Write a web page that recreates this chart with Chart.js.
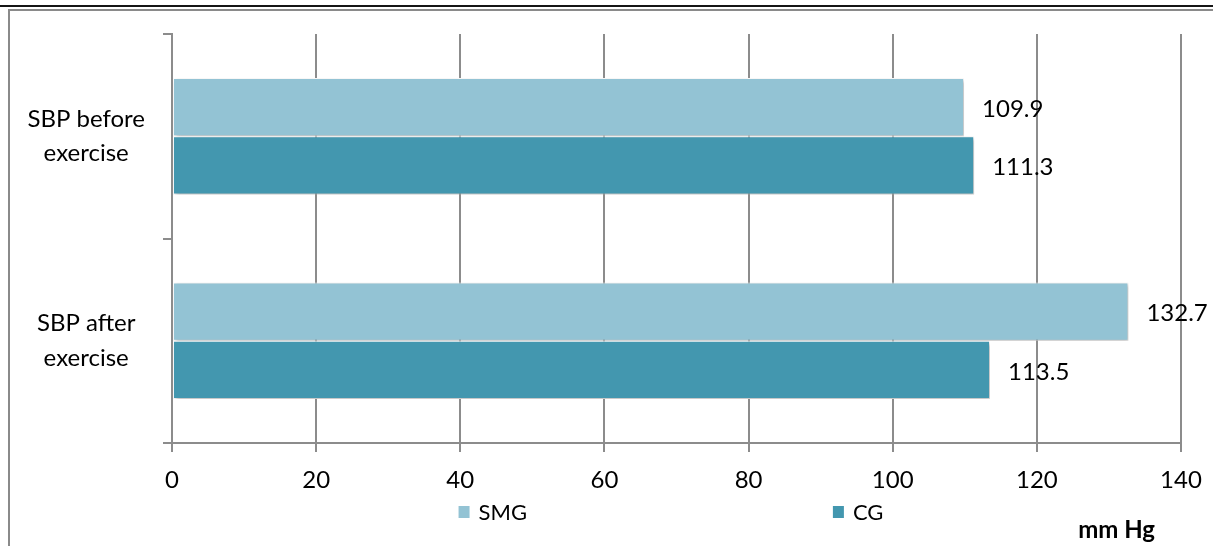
<!DOCTYPE html>
<html>
<head>
<meta charset="utf-8">
<script src="https://cdn.jsdelivr.net/npm/chart.js@4"></script>
<style>
  html, body { margin: 0; padding: 0; background: #fff; }
  #page { position: relative; width: 1213px; height: 546px; overflow: hidden; }
  #rule { position: absolute; left: 0; top: 5px; width: 1213px; height: 2px; background: #151515; }
  #frame { position: absolute; left: 8px; top: 9px; width: 1220px; height: 560px;
           border-left: 2px solid #8a8a8a; border-top: 2px solid #8a8a8a; }
  #chart { position: absolute; left: 0; top: 0; }
</style>
</head>
<body>
<div id="page">
  <div id="rule"></div>
  <div id="frame"></div>
  <canvas id="chart" width="1213" height="546"></canvas>
</div>
<script>
// Systolic blood pressure, mean values per group
const categories = [["SBP before", "exercise"], ["SBP after", "exercise"]];
const seriesNames = ["SMG", "CG"];
const smgValues = [109.9, 132.7];
const cgValues = [111.3, 113.5];
const xTicks = [0, 20, 40, 60, 80, 100, 120, 140];
const unitLabel = "mm Hg";

const colors = ["#93c3d4", "#4397af"];
const FONT = "Lato, 'Open Sans', sans-serif";
const GRID = "#8c8c8c";

// soft drop shadow under the bars
const barShadow = {
  id: "barShadow",
  beforeDatasetsDraw(chart) {
    const ctx = chart.ctx;
    ctx.save();
    ctx.shadowColor = "rgba(0,0,0,0.28)";
    ctx.shadowBlur = 4;
    ctx.shadowOffsetX = 2;
    ctx.shadowOffsetY = 2;
  },
  afterDatasetsDraw(chart) {
    chart.ctx.restore();
  }
};

// value labels to the right of each bar
const valueLabels = {
  id: "valueLabels",
  afterDatasetsDraw(chart) {
    const ctx = chart.ctx;
    ctx.save();
    ctx.font = "24px " + FONT;
    ctx.fillStyle = "#000";
    ctx.textAlign = "left";
    ctx.textBaseline = "middle";
    chart.data.datasets.forEach((ds, di) => {
      chart.getDatasetMeta(di).data.forEach((bar, i) => {
        ctx.fillText(ds.data[i].toFixed(1), bar.x + 18, bar.y + 2);
      });
    });
    ctx.restore();
  }
};

// legend row and unit caption under the axis
const bottomLegend = {
  id: "bottomLegend",
  afterDraw(chart) {
    const ctx = chart.ctx;
    const a = chart.chartArea;
    const w = a.right - a.left;
    const slots = [0.284, 0.655];
    const y = 512;
    ctx.save();
    ctx.font = "22px " + FONT;
    ctx.textBaseline = "middle";
    ctx.textAlign = "left";
    chart.data.datasets.forEach((ds, i) => {
      const x = a.left + w * slots[i];
      ctx.fillStyle = ds.backgroundColor;
      ctx.fillRect(x, y - 6, 11, 12);
      ctx.fillStyle = "#000";
      ctx.fillText(ds.label, x + 20, y + 1);
    });
    ctx.font = "bold 24px " + FONT;
    ctx.textAlign = "right";
    ctx.fillText(unitLabel, a.right - 26, y + 18);
    ctx.restore();
  }
};

new Chart(document.getElementById("chart"), {
  type: "bar",
  data: {
    labels: categories,
    datasets: [
      { label: seriesNames[0], data: smgValues, backgroundColor: colors[0] },
      { label: seriesNames[1], data: cgValues, backgroundColor: colors[1] }
    ]
  },
  options: {
    indexAxis: "y",
    responsive: false,
    animation: false,
    devicePixelRatio: 1,
    layout: { padding: { left: 0, right: 32, top: 34, bottom: 0 } },
    datasets: {
      bar: {
        borderColor: "#ffffff",
        borderWidth: 1,
        borderSkipped: false,
        categoryPercentage: 0.57,
        barPercentage: 1.0
      }
    },
    plugins: {
      legend: { display: false },
      tooltip: { enabled: false }
    },
    scales: {
      x: {
        min: 0,
        max: 140,
        afterBuildTicks(scale) {
          scale.ticks = xTicks.map(v => ({ value: v }));
        },
        afterFit(scale) {
          scale.height = 103;
          scale.paddingLeft = 0;
          scale.paddingRight = 0;
        },
        grid: {
          color: GRID,
          lineWidth: 2,
          drawTicks: true,
          tickLength: 9,
          tickColor: GRID
        },
        border: { color: GRID, width: 2 },
        ticks: {
          color: "#000",
          padding: 14,
          font: { family: FONT, size: 24 }
        }
      },
      y: {
        afterFit(scale) {
          scale.width = 172;
          scale.paddingTop = 0;
          scale.paddingBottom = 0;
        },
        grid: {
          drawOnChartArea: false,
          drawTicks: true,
          tickLength: 9,
          color: GRID,
          lineWidth: 2
        },
        border: { color: GRID, width: 2 },
        ticks: {
          color: "#000",
          crossAlign: "center",
          padding: 18,
          font: { family: FONT, size: 24, lineHeight: 1.45 }
        }
      }
    }
  },
  plugins: [barShadow, valueLabels, bottomLegend]
});
</script>
</body>
</html>
